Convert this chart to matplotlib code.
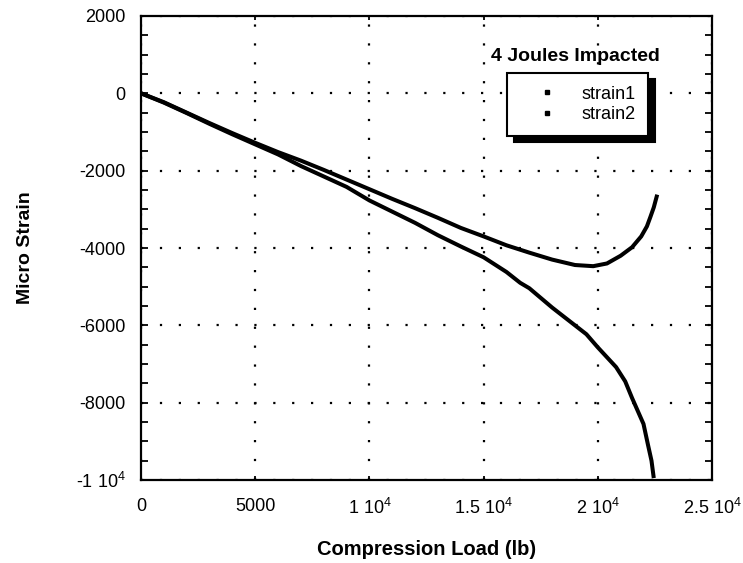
import numpy as np
import matplotlib
matplotlib.use("Agg")
import matplotlib.pyplot as plt
from matplotlib.lines import Line2D
from matplotlib.ticker import MultipleLocator, FixedLocator

plt.rcParams['font.family'] = ['Liberation Sans', 'DejaVu Sans']
plt.rcParams['mathtext.default'] = 'regular'

# values (load in lb, micro strain)
load1 = [0, 1000, 2000, 3000, 4000, 5000, 6000, 7000, 8000, 9000, 10000,
         11000, 12000, 13000, 14000, 15000, 16000, 17000, 18000, 19000,
         19800, 20400, 21000, 21500, 21900, 22150, 22300, 22450, 22600]
strain1 = [0, -230, -500, -770, -1030, -1280, -1520, -1740, -1980, -2230, -2480,
           -2730, -2970, -3220, -3480, -3700, -3930, -4120, -4300, -4440,
           -4470, -4400, -4200, -3980, -3700, -3440, -3200, -2950, -2620]

load2 = [0, 1000, 2000, 3000, 4000, 5000, 6000, 7000, 8000, 9000, 10000,
         11000, 12000, 13000, 14000, 15000, 16000, 16600, 17000, 18000, 19000,
         19500, 20000, 20800, 21200, 21500, 22000, 22200, 22350, 22450]
strain2 = [0, -240, -510, -790, -1060, -1320, -1580, -1880, -2150, -2420, -2770,
           -3060, -3350, -3670, -3960, -4240, -4620, -4900, -5040, -5540, -6000,
           -6230, -6570, -7080, -7450, -7880, -8550, -9100, -9500, -9950]

xticks = [0, 5000, 10000, 15000, 20000, 25000]
xlabels = ['0', '5000', r'1 10$^4$', r'1.5 10$^4$', r'2 10$^4$', r'2.5 10$^4$']
yticks = [2000, 0, -2000, -4000, -6000, -8000, -10000]
ylabels = ['2000', '0', '-2000', '-4000', '-6000', '-8000', r'-1 10$^4$']

fig = plt.figure(figsize=(7.43, 5.63), dpi=100)
fig.subplots_adjust(left=0.1898, right=0.9583, top=0.9716, bottom=0.1474)
ax = fig.add_subplot(111)

ax.plot(load1, strain1, color='k', lw=2.9, solid_capstyle='butt')
ax.plot(load2, strain2, color='k', lw=2.9, solid_capstyle='butt')

ax.set_xlim(0, 25000)
ax.set_ylim(-10000, 2000)
ax.xaxis.set_major_locator(FixedLocator(xticks))
ax.set_xticklabels(xlabels)
ax.yaxis.set_major_locator(FixedLocator(yticks))
ax.set_yticklabels(ylabels)
ax.yaxis.set_minor_locator(MultipleLocator(500))

ax.tick_params(axis='both', which='both', direction='in', top=True, right=True,
               labelsize=13, width=1.3)
ax.tick_params(axis='y', which='both', length=5, pad=11)
ax.tick_params(axis='x', which='major', length=3, pad=13)

for s in ax.spines.values():
    s.set_linewidth(1.6)

ax.grid(True, which='major', color='k', linestyle=(0, (1, 7.5)), linewidth=1.6)

ax.set_xlabel('Compression Load (lb)', fontsize=14.5, fontweight='bold', labelpad=16)
ax.set_ylabel('Micro Strain', fontsize=14, fontweight='bold', labelpad=30)

ax.text(0.76, 0.912, '4 Joules Impacted', transform=ax.transAxes, ha='center',
        va='center', fontsize=14, fontweight='bold')

handles = [Line2D([], [], ls='none', marker='s', ms=2.5, color='k'),
           Line2D([], [], ls='none', marker='s', ms=2.5, color='k')]
leg = ax.legend(handles, ['strain1', 'strain2'], loc='upper left',
                bbox_to_anchor=(0.641, 0.877), borderaxespad=0, fontsize=13,
                frameon=True, fancybox=False, handlelength=3.0, handletextpad=0.4,
                borderpad=0.7, labelspacing=0.2, framealpha=1,
                shadow={'ox': 5, 'oy': -4, 'facecolor': 'k', 'edgecolor': 'k', 'alpha': 1})
leg.get_frame().set_edgecolor('k')
leg.get_frame().set_linewidth(1.5)

fig.savefig('out.png', dpi=100)
